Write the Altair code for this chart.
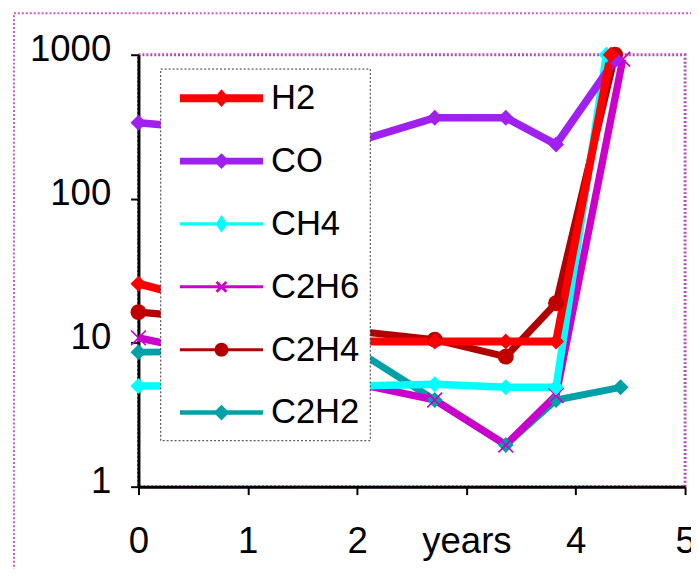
import altair as alt
import pandas as pd

# ---------------- data ----------------
series = ["H2", "CO", "CH4", "C2H6", "C2H4", "C2H2"]

h2_years = [0, 2.0, 2.71, 3.36, 3.82, 4.32]
h2_ppm = [25.7, 10.2, 10.2, 10.2, 10.2, 1000]

co_years = [0, 2.0, 2.71, 3.36, 3.82, 4.36]
co_ppm = [337, 250, 365, 365, 238, 920]

ch4_years = [0, 2.0, 2.71, 3.36, 3.82, 4.28]
ch4_ppm = [5.0, 5.0, 5.15, 4.9, 4.9, 1000]

c2h6_years = [0, 2.0, 2.71, 3.36, 3.82, 4.43]
c2h6_ppm = [10.8, 5.2, 4.0, 1.95, 4.3, 930]

c2h4_years = [0, 2.0, 2.71, 3.36, 3.82, 4.36]
c2h4_ppm = [16.3, 12.0, 10.5, 8.0, 18.8, 1000]

c2h2_years = [0, 2.0, 2.71, 3.36, 3.82, 4.41]
c2h2_ppm = [8.6, 8.8, 4.0, 1.95, 4.0, 4.9]

x_ticks = [0, 1, 2, 3, 4, 5]
x_tick_labels = ["0", "1", "2", "years", "4", "5"]
y_ticks = [1, 10, 100, 1000]

# ---------------- styles ----------------
line_colors = ["#ff0000", "#a020f0", "#00ffff", "#cc00cc", "#b00000", "#00a0a8"]
marker_colors = ["#ff0000", "#a020f0", "#00ffff", "#cc00cc", "#c00000", "#00a0a8"]
line_widths = [8, 7, 4, 3, 3, 4]
marker_sizes = [260, 260, 200, 180, 260, 320]
X_PATH = ("M-0.85,-1 L1,0.85 L0.85,1 L-1,-0.85 Z "
          "M0.85,-1 L1,-0.85 L-0.85,1 L-1,0.85 Z")
marker_shapes = ["diamond", "diamond", "diamond", X_PATH, "circle", "diamond"]

FONT = "Liberation Sans Narrow, Arial Narrow, Liberation Sans, Arial, sans-serif"

# legend symbol = line + marker, drawn as one custom path (unit = 20 px)
U = 20.0


def sym_path(half_thick, kind, half_w, half_h):
    t = half_thick / U
    parts = [f"M-1,{-t:.3f} L3.2,{-t:.3f} L3.2,{t:.3f} L-1,{t:.3f} Z"]
    cx = 1.1
    w = half_w / U
    h = half_h / U
    if kind == "diamond":
        parts.append(f"M{cx:.3f},{-h:.3f} L{cx + w:.3f},0 L{cx:.3f},{h:.3f} L{cx - w:.3f},0 Z")
    elif kind == "circle":
        parts.append(f"M{cx - w:.3f},0 A{w:.3f},{w:.3f} 0 1 1 {cx + w:.3f},0 "
                     f"A{w:.3f},{w:.3f} 0 1 1 {cx - w:.3f},0 Z")
    elif kind == "x":
        d = 0.1
        parts.append(f"M{cx - w:.3f},{-h + d:.3f} L{cx - w + d:.3f},{-h:.3f} "
                     f"L{cx + w:.3f},{h - d:.3f} L{cx + w - d:.3f},{h:.3f} Z")
        parts.append(f"M{cx + w - d:.3f},{-h:.3f} L{cx + w:.3f},{-h + d:.3f} "
                     f"L{cx - w + d:.3f},{h:.3f} L{cx - w:.3f},{h - d:.3f} Z")
    return " ".join(parts)


legend_shapes = [
    sym_path(4.0, "diamond", 8, 9),
    sym_path(3.5, "diamond", 8, 8),
    sym_path(1.6, "diamond", 6, 9),
    sym_path(1.5, "x", 6, 6),
    sym_path(1.5, "circle", 7, 7),
    sym_path(2.2, "diamond", 8, 8),
]

# ---------------- table (H2 last so it is drawn on top) ----------------
cols = {
    "H2": (h2_years, h2_ppm),
    "CO": (co_years, co_ppm),
    "CH4": (ch4_years, ch4_ppm),
    "C2H6": (c2h6_years, c2h6_ppm),
    "C2H4": (c2h4_years, c2h4_ppm),
    "C2H2": (c2h2_years, c2h2_ppm),
}
rows = []
for s in reversed(series):
    xs, ys = cols[s]
    for xv, yv in zip(xs, ys):
        rows.append({"series": s, "years": xv, "ppm": yv})
df = pd.DataFrame(rows)

label_expr = f"'{x_tick_labels[-1]}'"
for v, l in reversed(list(zip(x_ticks[:-1], x_tick_labels[:-1]))):
    label_expr = f"datum.value == {v} ? '{l}' : {label_expr}"

W, H = 553, 437

x_enc = alt.X("years:Q", scale=alt.Scale(domain=[0, 5], nice=False, zero=False),
              axis=alt.Axis(values=x_ticks, labelExpr=label_expr, title=None,
                            labelPadding=30, labelFlush=False))
y_enc = alt.Y("ppm:Q", scale=alt.Scale(type="log", domain=[1, 1000], nice=False),
              axis=alt.Axis(values=y_ticks, format="d", title=None, labelPadding=20,
                            labelOffset=-5))

frame = alt.Chart(pd.DataFrame({"a": [0]})).mark_rect(
    fillOpacity=0, stroke="#c85ac8", strokeWidth=2, strokeDash=[2, 2]
).encode(x=alt.value(-126), x2=alt.value(W + 100), y=alt.value(-42), y2=alt.value(H + 200))

lines = alt.Chart(df).mark_line().encode(
    x=x_enc, y=y_enc,
    color=alt.Color("series:N", scale=alt.Scale(domain=series, range=line_colors), legend=None),
    strokeWidth=alt.StrokeWidth("series:N", scale=alt.Scale(domain=series, range=line_widths), legend=None),
    order="years:Q",
)

points = alt.Chart(df).mark_point(filled=True, opacity=1).encode(
    x=x_enc, y=y_enc,
    color=alt.Color("series:N", scale=alt.Scale(domain=series, range=marker_colors), legend=None),
    shape=alt.Shape("series:N", scale=alt.Scale(domain=series, range=marker_shapes), legend=None),
    size=alt.Size("series:N", scale=alt.Scale(domain=series, range=marker_sizes), legend=None),
)

legend_layer = alt.Chart(df).mark_point(filled=True, opacity=0).encode(
    x=x_enc, y=y_enc,
    color=alt.Color("series:N", scale=alt.Scale(domain=series, range=line_colors),
                    legend=alt.Legend(
                        title=None, orient="none", legendX=22, legendY=14,
                        symbolSize=1600, symbolOffset=10, labelOffset=52,
                        rowPadding=25.6, padding=10,
                        fillColor="white", strokeColor="#333333",
                        labelFont=FONT, labelFontSize=35, labelColor="black",
                        symbolStrokeWidth=0, labelLimit=300)),
    shape=alt.Shape("series:N", scale=alt.Scale(domain=series, range=legend_shapes), legend=None),
)

chart = alt.layer(frame, lines, points, legend_layer).resolve_scale(
    color="independent", shape="independent", size="independent", strokeWidth="independent"
).properties(
    width=W, height=H,
    autosize=alt.AutoSizeParams(type="none"),
    padding={"left": 132, "top": 44, "right": 6, "bottom": 80},
).configure_view(
    stroke="#b84cb8", strokeWidth=3, strokeDash=[2, 2]
).configure_axis(
    grid=False, domainColor="black", domainWidth=3, tickColor="black", tickWidth=2,
    tickSize=8, labelFont=FONT, labelFontSize=37, labelColor="black",
).configure_legend(
    strokeDash=[2, 2]
)

chart.save("out.html", embed_options={"renderer": "svg", "actions": False})
